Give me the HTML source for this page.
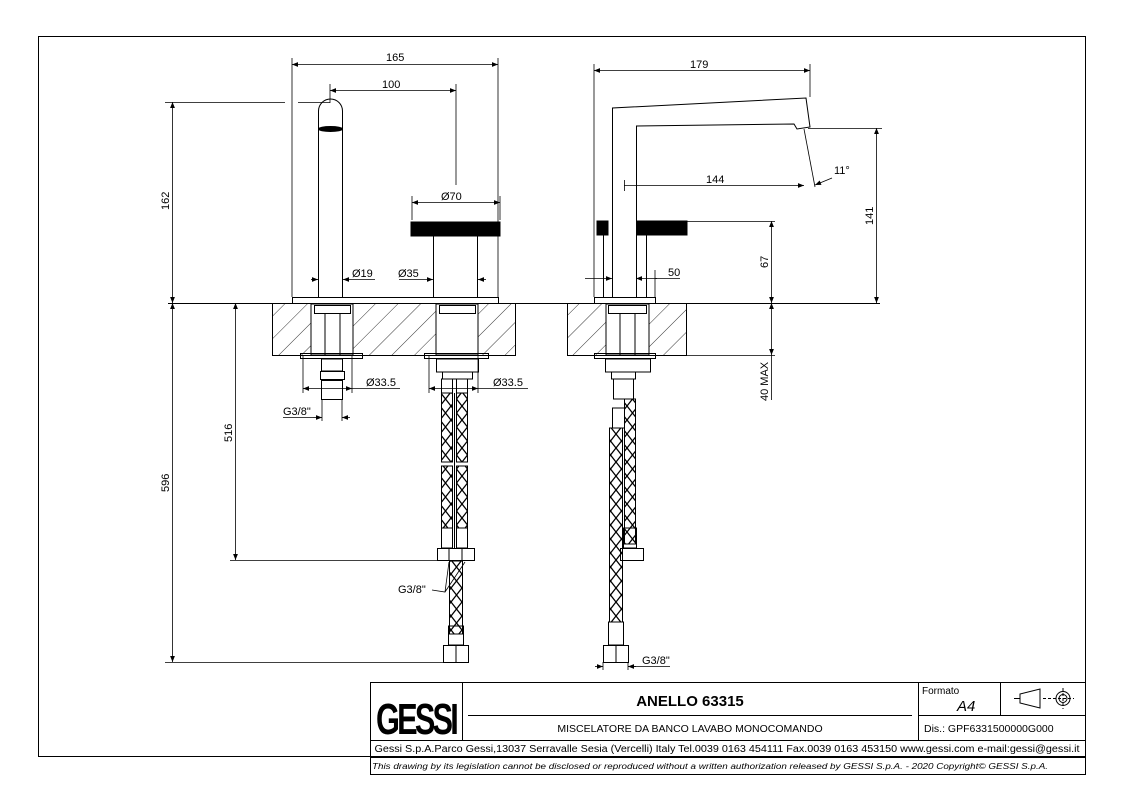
<!DOCTYPE html>
<html><head><meta charset="utf-8"><style>
html,body{margin:0;padding:0;background:#fff;}
svg{display:block;}
text{font-family:"Liberation Sans",Arial,sans-serif;fill:#000;}
</style></head><body>
<svg width="1123" height="794" viewBox="0 0 1123 794" xmlns="http://www.w3.org/2000/svg">
<defs>
<pattern id="hatch" patternUnits="userSpaceOnUse" width="16" height="16" patternTransform="rotate(45)">
<line x1="0" y1="0" x2="0" y2="16" stroke="#000" stroke-width="0.8"/>
</pattern>
<pattern id="braid" patternUnits="userSpaceOnUse" width="11" height="14">
<path d="M0 0 L11 14 M11 0 L0 14" stroke="#000" stroke-width="1.3" fill="none"/>
</pattern>
<marker id="a" viewBox="0 0 10 10" refX="10" refY="5" markerWidth="9" markerHeight="6" orient="auto-start-reverse" markerUnits="userSpaceOnUse">
<path d="M0 1 L10 5 L0 9 z" fill="#000"/>
</marker>
</defs>
<g fill="none" stroke="#000" stroke-width="1">
<!-- frame -->
<rect x="38.5" y="36.5" width="1047" height="720"/>
<!-- title block -->
<rect x="370.5" y="682.5" width="715" height="92"/>
<line x1="370" y1="740.5" x2="1085" y2="740.5"/>
<line x1="370" y1="757.5" x2="1085" y2="757.5"/>
<line x1="462.5" y1="682" x2="462.5" y2="740"/>
<line x1="918.5" y1="682" x2="918.5" y2="740"/>
<line x1="1000.5" y1="682" x2="1000.5" y2="715"/>
<line x1="918" y1="715.5" x2="1085" y2="715.5"/>
<line x1="468" y1="715.5" x2="912" y2="715.5"/>
<!-- projection symbol -->
<path d="M1014 698.5 h6 M1020 694 v9 l20 5 v-19 z"/>
<circle cx="1063" cy="698.5" r="7"/><circle cx="1063" cy="698.5" r="4"/>
<path d="M1043 698.5 h31 M1063 688 v21" stroke-dasharray="3 2"/>

<!-- counter top line -->
<line x1="168" y1="303.5" x2="880" y2="303.5"/>

<!-- LEFT VIEW slab -->
<rect x="272.5" y="303.5" width="243" height="52" fill="url(#hatch)"/>
<rect x="311" y="304" width="42" height="51" fill="#fff"/>
<rect x="436" y="304" width="42" height="51" fill="#fff"/>
<path d="M311 304 v51 M353 304 v51 M436 304 v51 M478 304 v51"/>
<rect x="314.5" y="305.5" width="36" height="8"/>
<line x1="325" y1="314" x2="325" y2="355"/><line x1="340" y1="314" x2="340" y2="355"/>
<rect x="439.5" y="305.5" width="36" height="8"/>
<rect x="292.5" y="297.5" width="206" height="6"/>
<!-- spout -->
<path d="M318.5 297 V111 A12 12 0 0 1 342.5 111 V297"/>
<ellipse cx="330.5" cy="129" rx="12" ry="2.5" fill="#000"/>
<!-- handle -->
<rect x="411" y="222" width="89" height="14" fill="#000"/>
<path d="M433.5 236 V297 M477.5 236 V297"/>
<!-- under slab left -->
<rect x="300.5" y="353.5" width="62" height="5"/>
<rect x="321.5" y="359" width="21" height="12"/>
<rect x="320.5" y="371.5" width="24" height="8"/>
<rect x="321.5" y="380.5" width="21" height="19"/>
<!-- under slab right connectors -->
<rect x="424.5" y="353.5" width="64" height="5"/>
<rect x="436.5" y="359" width="42" height="13"/>
<rect x="442.5" y="372" width="30" height="7"/>
<rect x="441.5" y="379" width="11" height="14"/><rect x="456.5" y="379" width="11" height="14"/>
<rect x="441.5" y="393" width="11" height="69" fill="url(#braid)"/>
<rect x="456.5" y="393" width="11" height="69" fill="url(#braid)"/>
<rect x="441.5" y="466" width="11" height="62" fill="url(#braid)"/>
<rect x="456.5" y="466" width="11" height="62" fill="url(#braid)"/>
<line x1="454.5" y1="393" x2="454.5" y2="548"/>
<rect x="441.5" y="528" width="11" height="20"/><rect x="456.5" y="528" width="11" height="20"/>
<rect x="437.5" y="548.5" width="37" height="12"/>
<line x1="449" y1="548" x2="449" y2="560"/><line x1="462" y1="548" x2="462" y2="560"/>
<rect x="449.5" y="561" width="13" height="73" fill="url(#braid)"/>
<rect x="448.5" y="626" width="15" height="19"/>
<rect x="443.5" y="645.5" width="25" height="17"/>
<line x1="456" y1="645" x2="456" y2="662"/>

<!-- RIGHT VIEW slab -->
<rect x="567.5" y="303.5" width="119" height="52" fill="url(#hatch)"/>
<rect x="606" y="304" width="43" height="51" fill="#fff"/>
<path d="M606 304 v51 M649 304 v51"/>
<rect x="608.5" y="305.5" width="38" height="8"/>
<line x1="620" y1="314" x2="620" y2="355"/><line x1="635" y1="314" x2="635" y2="355"/>
<rect x="594.5" y="297.5" width="61" height="6"/>
<!-- spout right -->
<path d="M612.5 297 V108 L806 98 L810 127 L797 129 L794 124 L636.5 126 V297"/>
<rect x="597" y="221" width="11" height="14" fill="#000"/>
<rect x="637" y="221" width="50" height="14" fill="#000"/>
<path d="M603.5 235 V297 M646.5 235 V297"/>
<!-- under right -->
<rect x="594.5" y="353.5" width="61" height="5"/>
<rect x="605.5" y="359" width="45" height="13"/>
<rect x="611.5" y="372" width="24" height="7"/>
<rect x="613.5" y="379" width="20" height="20"/>
<rect x="612.5" y="408" width="12" height="20"/>
<rect x="609.5" y="428" width="13" height="194" fill="url(#braid)"/>
<rect x="624.5" y="399" width="11" height="145" fill="url(#braid)"/>
<rect x="623.5" y="528" width="13" height="20"/>
<rect x="620.5" y="548.5" width="23" height="12"/>
<rect x="608.5" y="622" width="15" height="23"/>
<rect x="603.5" y="645.5" width="25" height="17"/>
<line x1="616" y1="645" x2="616" y2="662"/>

<!-- DIMENSIONS left -->
<g stroke-width="0.8">
<line x1="292" y1="297" x2="292" y2="58"/><line x1="498" y1="297" x2="498" y2="58"/>
<line x1="292" y1="64.5" x2="498" y2="64.5" marker-start="url(#a)" marker-end="url(#a)"/>
<line x1="330" y1="103" x2="330" y2="84"/><line x1="456" y1="185" x2="456" y2="84"/>
<line x1="330" y1="90.5" x2="456" y2="90.5" marker-start="url(#a)" marker-end="url(#a)"/>
<line x1="165" y1="102.5" x2="285" y2="102.5"/><line x1="298" y1="102.5" x2="330" y2="102.5"/>
<line x1="172.5" y1="102" x2="172.5" y2="303" marker-start="url(#a)" marker-end="url(#a)"/>
<line x1="412" y1="220" x2="412" y2="196"/><line x1="500" y1="220" x2="500" y2="196"/>
<line x1="412" y1="202.5" x2="500" y2="202.5" marker-start="url(#a)" marker-end="url(#a)"/>
<line x1="311" y1="279.5" x2="318" y2="279.5" marker-end="url(#a)"/>
<line x1="375" y1="279.5" x2="343" y2="279.5" marker-end="url(#a)"/>
<line x1="399" y1="279.5" x2="433" y2="279.5" marker-end="url(#a)"/>
<line x1="486" y1="279.5" x2="478" y2="279.5" marker-end="url(#a)"/>
<line x1="303" y1="356" x2="303" y2="393"/><line x1="352" y1="356" x2="352" y2="393"/>
<line x1="303" y1="388.5" x2="352" y2="388.5" marker-start="url(#a)" marker-end="url(#a)"/>
<line x1="352" y1="388.5" x2="400" y2="388.5"/>
<line x1="322" y1="400" x2="322" y2="421"/><line x1="342" y1="400" x2="342" y2="421"/>
<line x1="313" y1="417.5" x2="322" y2="417.5" marker-end="url(#a)"/>
<line x1="350" y1="417.5" x2="342" y2="417.5" marker-end="url(#a)"/>
<line x1="283" y1="417.5" x2="313" y2="417.5"/>
<line x1="429" y1="356" x2="429" y2="393"/><line x1="478" y1="356" x2="478" y2="393"/>
<line x1="429" y1="388.5" x2="478" y2="388.5" marker-start="url(#a)" marker-end="url(#a)"/>
<line x1="478" y1="388.5" x2="528" y2="388.5"/>
<line x1="235.5" y1="303" x2="235.5" y2="560" marker-start="url(#a)" marker-end="url(#a)"/>
<line x1="230" y1="560.5" x2="437" y2="560.5"/>
<line x1="165" y1="662.5" x2="443" y2="662.5"/>
<line x1="172.5" y1="303" x2="172.5" y2="662" marker-start="url(#a)" marker-end="url(#a)"/>
<path d="M432 590 L445 592 L449 562 M445 592 L465 562"/>
<!-- right dims -->
<line x1="594" y1="297" x2="594" y2="64"/><line x1="810" y1="97" x2="810" y2="64"/>
<line x1="594" y1="70.5" x2="810" y2="70.5" marker-start="url(#a)" marker-end="url(#a)"/>
<line x1="624.5" y1="180" x2="624.5" y2="191"/>
<line x1="624" y1="185.5" x2="804" y2="185.5" marker-end="url(#a)"/>
<line x1="804" y1="129" x2="815" y2="187"/>
<line x1="832" y1="178" x2="815" y2="185" marker-end="url(#a)"/>
<line x1="808" y1="128.5" x2="882" y2="128.5"/>
<line x1="876.5" y1="128" x2="876.5" y2="303" marker-start="url(#a)" marker-end="url(#a)"/>
<line x1="687" y1="221.5" x2="775" y2="221.5"/>
<line x1="771.5" y1="221" x2="771.5" y2="303" marker-start="url(#a)" marker-end="url(#a)"/>
<line x1="771.5" y1="303" x2="771.5" y2="355" marker-start="url(#a)" marker-end="url(#a)"/>
<line x1="686" y1="355.5" x2="775" y2="355.5"/>
<line x1="771.5" y1="355" x2="771.5" y2="400"/>
<line x1="585" y1="278.5" x2="612" y2="278.5" marker-end="url(#a)"/>
<line x1="657" y1="278.5" x2="636" y2="278.5" marker-end="url(#a)"/>
<line x1="655" y1="270" x2="655" y2="297"/><line x1="655" y1="278.5" x2="680" y2="278.5"/>
<line x1="603" y1="662" x2="603" y2="670"/><line x1="628" y1="662" x2="628" y2="670"/>
<line x1="595" y1="666.5" x2="603" y2="666.5" marker-end="url(#a)"/>
<line x1="636" y1="666.5" x2="628" y2="666.5" marker-end="url(#a)"/>
<line x1="628" y1="666.5" x2="670" y2="666.5"/>
</g>
</g>
<!-- text -->
<g font-size="11">
<text x="386" y="61">165</text>
<text x="382" y="88">100</text>
<text x="441" y="200">Ø70</text>
<text x="352" y="277">Ø19</text>
<text x="398" y="277">Ø35</text>
<text x="366" y="386">Ø33.5</text>
<text x="493" y="386">Ø33.5</text>
<text x="283" y="415">G3/8"</text>
<text x="398" y="593">G3/8"</text>
<text transform="translate(169,210) rotate(-90)">162</text>
<text transform="translate(232,442) rotate(-90)">516</text>
<text transform="translate(169,492) rotate(-90)">596</text>
<text x="690" y="68">179</text>
<text x="706" y="183">144</text>
<text x="834" y="174">11°</text>
<text x="668" y="276">50</text>
<text transform="translate(768,268) rotate(-90)">67</text>
<text transform="translate(768,401) rotate(-90)">40 MAX</text>
<text transform="translate(873,225) rotate(-90)">141</text>
<text x="642" y="664">G3/8"</text>
</g>
<text x="376" y="734" font-size="44" font-weight="bold" textLength="80" lengthAdjust="spacingAndGlyphs" style="letter-spacing:-4px">GESSI</text>
<text x="690" y="706" font-size="15" font-weight="bold" text-anchor="middle">ANELLO 63315</text>
<text x="690" y="732" font-size="10.5" text-anchor="middle">MISCELATORE DA BANCO LAVABO MONOCOMANDO</text>
<text x="922" y="694" font-size="10">Formato</text>
<text x="957" y="711" font-size="15" font-style="italic">A4</text>
<text x="924" y="732" font-size="10.5">Dis.: GPF6331500000G000</text>
<text x="727" y="752" font-size="10" text-anchor="middle" textLength="705" lengthAdjust="spacingAndGlyphs">Gessi S.p.A.Parco Gessi,13037 Serravalle Sesia (Vercelli) Italy Tel.0039 0163 454111 Fax.0039 0163 453150 www.gessi.com e-mail:gessi@gessi.it</text>
<text x="710" y="769" font-size="8" font-style="italic" text-anchor="middle" textLength="676" lengthAdjust="spacingAndGlyphs">This drawing by its legislation cannot be disclosed or reproduced without a written authorization released by GESSI S.p.A. - 2020 Copyright© GESSI S.p.A.</text>
</svg>
</body></html>
